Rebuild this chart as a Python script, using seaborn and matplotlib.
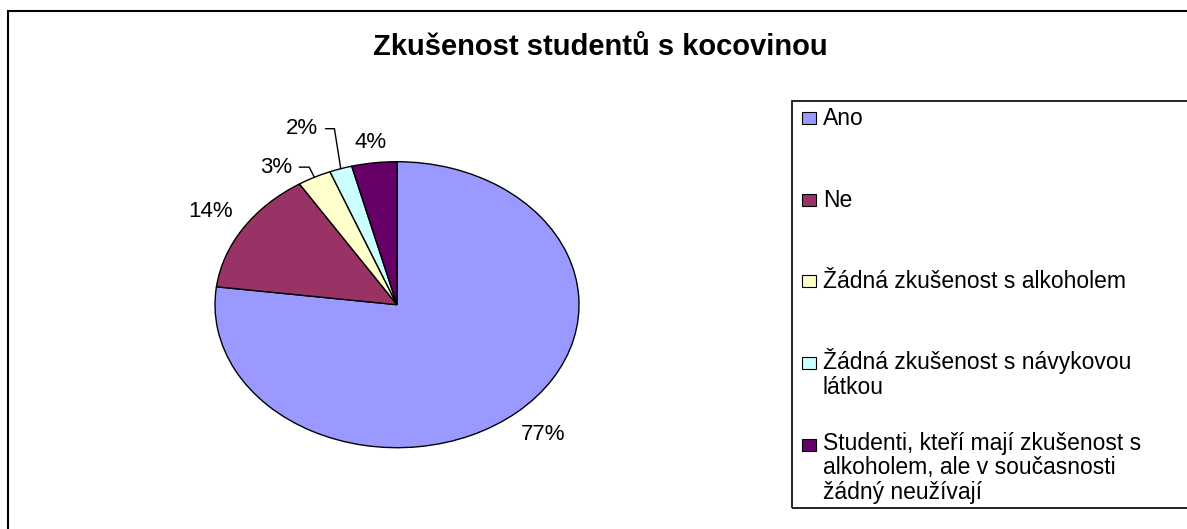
import numpy as np
import matplotlib
matplotlib.use("Agg")
import matplotlib.pyplot as plt
import seaborn as sns
from matplotlib.patches import Rectangle

# ---- data ----
title = "Zkušenost studentů s kocovinou"
categories = [
    "Ano",
    "Ne",
    "Žádná zkušenost s alkoholem",
    "Žádná zkušenost s návykovou\nlátkou",
    "Studenti, kteří mají zkušenost s\nalkoholem, ale v současnosti\nžádný neužívají",
]
shares = [77, 14, 3, 2, 4]
pct_labels = ["77%", "14%", "3%", "2%", "4%"]
colors = ["#9999FF", "#993366", "#FFFFCC", "#CCFFFF", "#660066"]

# ---- style ----
sns.set_theme(style="white")
plt.rcParams["font.family"] = ["Liberation Sans", "DejaVu Sans"]

W, H = 1187, 529
fig = plt.figure(figsize=(W / 100, H / 100), dpi=100)
fig.patch.set_facecolor("white")


def fx(px):
    return px / W


def fy(py):
    return 1 - py / H


# pie geometry (pixels)
cx, cy, rx, ry = 397, 304.7, 182, 143
L = 1.6
ax = fig.add_axes([fx(cx - L * rx), fy(cy + L * ry), 2 * L * rx / W, 2 * L * ry / H])
palette = sns.color_palette(colors)
wedges, _ = ax.pie(shares, colors=palette, startangle=90, counterclock=False,
                   wedgeprops=dict(edgecolor="black", linewidth=1.0))
ax.set_aspect("auto")
ax.set_xlim(-L, L)
ax.set_ylim(-L, L)
ax.axis("off")

# label placement styles: (angle override in deg or None, radius, leader angle or None)
label_style = [(None, 1.21, None), (None, 1.21, None), (124.7, 1.17, 117),
               (113.0, 1.337, 99), (None, 1.14, None)]
for w, txt, (ang, r, lead) in zip(wedges, pct_labels, label_style):
    mid = 0.5 * (w.theta1 + w.theta2)
    a = mid if ang is None else ang
    tx, ty = r * np.cos(np.radians(a)), r * np.sin(np.radians(a))
    if lead is None:
        ax.text(tx, ty, txt, ha="center", va="center", fontsize=16, color="black")
    else:
        px, py = np.cos(np.radians(mid)), np.sin(np.radians(mid))
        ax.annotate(txt, xy=(px, py), xytext=(tx, ty), ha="center", va="center",
                    fontsize=16, color="black",
                    arrowprops=dict(arrowstyle="-", color="black", lw=1.0,
                                    shrinkA=3, shrinkB=0, relpos=(1, 0.5),
                                    connectionstyle=f"angle,angleA=0,angleB={lead},rad=0"))

# title
fig.text(fx(600), fy(55), title, ha="center", va="baseline", fontsize=21,
         fontweight="bold", color="black")

# outer border
fig.add_artist(Rectangle((fx(8), fy(540)), fx(1200) - fx(8), (540 - 11) / H,
                         transform=fig.transFigure, fill=False, edgecolor="black",
                         linewidth=1.5, clip_on=False))

# legend box
fig.add_artist(Rectangle((fx(792), fy(508)), fx(1200) - fx(792), (508 - 101) / H,
                         transform=fig.transFigure, fill=False, edgecolor="black",
                         linewidth=1.2, clip_on=False))
first_base, step, pitch = 125, 81.7, 23.5
for i, (lab, col) in enumerate(zip(categories, palette)):
    base = first_base + i * step
    fig.add_artist(Rectangle((fx(802), fy(base - 1)), 14 / W, 12 / H,
                             transform=fig.transFigure, facecolor=col,
                             edgecolor="black", linewidth=0.8))
    # baseline alignment of multi-line text refers to the last line
    last_base = base + lab.count("\n") * pitch
    fig.text(fx(823), fy(last_base), lab, ha="left", va="baseline", fontsize=16.5,
             linespacing=1.08, color="black")

fig.savefig("out.png", dpi=100, facecolor="white")
